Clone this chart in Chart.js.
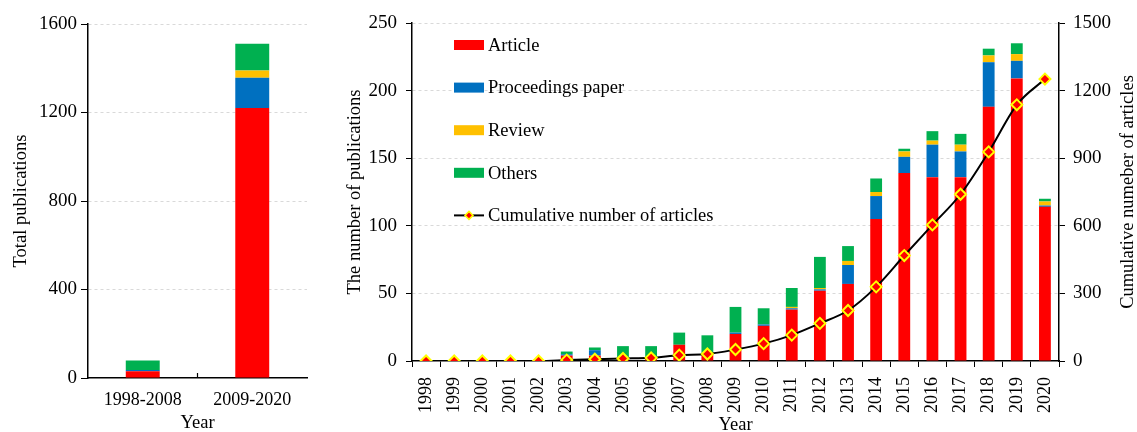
<!DOCTYPE html>
<html>
<head>
<meta charset="utf-8">
<script src="https://cdn.jsdelivr.net/npm/chart.js@4.4.1/dist/chart.umd.min.js"></script>
<style>
  html, body { margin: 0; padding: 0; background: #fff; overflow: hidden; width: 1137px; height: 432px; }
  canvas { position: absolute; top: 0; }
  #totals { left: 0; }
  #yearly { left: 330px; }
</style>
</head>
<body>
<canvas id="totals" width="310" height="432"></canvas>
<canvas id="yearly" width="807" height="432"></canvas>
<script>
// Publication counts by document type, per period
const periods = ['1998-2008', '2009-2020'];
const periodArticle = [31, 1220];
const periodProceedings = [5, 137];
const periodReview = [0, 33];
const periodOthers = [43, 121];

// Publication counts by document type, per year
const years = ['1998', '1999', '2000', '2001', '2002', '2003', '2004', '2005', '2006', '2007', '2008',
  '2009', '2010', '2011', '2012', '2013', '2014', '2015', '2016', '2017', '2018', '2019', '2020'];
const article = [0, 0, 0, 0, 0, 4, 4, 3, 3, 12, 5, 20, 26, 38, 52, 57, 105, 139, 136, 136, 188, 209, 114];
const proceedings = [0, 0, 0, 0, 0, 1, 4, 0, 0, 0, 0, 1, 1, 1, 1, 14, 17, 12, 24, 19, 33, 13, 1];
const review = [0, 0, 0, 0, 0, 0, 0, 0, 0, 0, 0, 0, 0, 1, 1, 3, 3, 4, 3, 5, 5, 5, 3];
const others = [0, 0, 0, 0, 0, 2, 2, 8, 8, 9, 14, 19, 12, 14, 23, 11, 10, 2, 7, 8, 5, 8, 2];
const cumulativeArticles = [0, 0, 0, 0, 0, 4, 8, 11, 14, 26, 31, 51, 77, 115, 167, 224, 329, 468, 604, 740, 928, 1137, 1251];

// Axis tick values
const totalTicks = [0, 400, 800, 1200, 1600];
const yearlyTicks = [0, 50, 100, 150, 200, 250];
const cumulativeTicks = [0, 300, 600, 900, 1200, 1500];

const COLORS = { article: '#FF0000', proceedings: '#0070C0', review: '#FFC000', others: '#00B050' };
const SERIF = "'Liberation Serif', 'Times New Roman', serif";

Chart.defaults.font.family = SERIF;
Chart.defaults.color = '#000';
Chart.defaults.animation = false;

const gridColor = (ctx) => (ctx.tick && ctx.tick.value === 0) ? 'rgba(0,0,0,0)' : '#d9d9d9';
const plainNumber = (v) => String(v);

function fixedTicks(values) {
  return function (scale) {
    scale.ticks = values.map(v => ({ value: v }));
  };
}

// Small inward tick marks between the period categories
const innerCategoryTicks = {
  id: 'innerCategoryTicks',
  afterDraw(chart) {
    const x = chart.scales.x;
    const { ctx, chartArea } = chart;
    ctx.save();
    ctx.strokeStyle = '#000';
    ctx.lineWidth = 1.2;
    for (let i = 0; i < x.ticks.length - 1; i++) {
      const px = (x.getPixelForValue(i) + x.getPixelForValue(i + 1)) / 2;
      ctx.beginPath();
      ctx.moveTo(px, chartArea.bottom);
      ctx.lineTo(px, chartArea.bottom - 5);
      ctx.stroke();
    }
    ctx.restore();
  }
};

// Vertical legend drawn inside the plot area
const insideLegend = {
  id: 'insideLegend',
  afterDraw(chart) {
    const { ctx, chartArea } = chart;
    const x0 = chartArea.left + 42;
    const y0 = chartArea.top + 22;
    const step = 42.6;
    ctx.save();
    ctx.font = '18.5px ' + SERIF;
    ctx.textBaseline = 'middle';
    ctx.fillStyle = '#000';
    chart.data.datasets.forEach((ds, i) => {
      const y = y0 + i * step;
      if (ds.type === 'line') {
        ctx.strokeStyle = ds.borderColor;
        ctx.lineWidth = 2;
        ctx.beginPath();
        ctx.moveTo(x0, y);
        ctx.lineTo(x0 + 30, y);
        ctx.stroke();
        const r = 4;
        const cx = x0 + 15;
        ctx.beginPath();
        ctx.moveTo(cx, y - r);
        ctx.lineTo(cx + r, y);
        ctx.lineTo(cx, y + r);
        ctx.lineTo(cx - r, y);
        ctx.closePath();
        ctx.fillStyle = ds.pointBackgroundColor;
        ctx.fill();
        ctx.strokeStyle = ds.pointBorderColor;
        ctx.lineWidth = 1.5;
        ctx.stroke();
      } else {
        ctx.fillStyle = ds.backgroundColor;
        ctx.fillRect(x0, y - 5, 30, 10);
      }
      ctx.fillStyle = '#000';
      ctx.fillText(ds.label, x0 + 34, y + 1);
    });
    ctx.restore();
  }
};

// Right-axis title, reading bottom to top like the left one
const rightAxisTitle = {
  id: 'rightAxisTitle',
  afterDraw(chart, args, opts) {
    const { ctx, chartArea } = chart;
    const y1 = chart.scales.y1;
    ctx.save();
    ctx.translate(y1.right - 9, (chartArea.top + chartArea.bottom) / 2);
    ctx.rotate(-Math.PI / 2);
    ctx.font = '18.5px ' + SERIF;
    ctx.fillStyle = '#000';
    ctx.textAlign = 'center';
    ctx.textBaseline = 'middle';
    ctx.fillText(opts.text, 0, 0);
    ctx.restore();
  }
};

const titleFont = { size: 18.5, family: SERIF };
const tickFont = { size: 18, family: SERIF };
const valueFont = { size: 19, family: SERIF };

// Totals per period
new Chart(document.getElementById('totals'), {
  type: 'bar',
  data: {
    labels: periods,
    datasets: [
      { label: 'Article', data: periodArticle, backgroundColor: COLORS.article },
      { label: 'Proceedings paper', data: periodProceedings, backgroundColor: COLORS.proceedings },
      { label: 'Review', data: periodReview, backgroundColor: COLORS.review },
      { label: 'Others', data: periodOthers, backgroundColor: COLORS.others }
    ]
  },
  options: {
    responsive: false,
    layout: { padding: { top: 24, right: 3, left: 0, bottom: 0 } },
    datasets: { bar: { categoryPercentage: 1, barPercentage: 0.31 } },
    plugins: { legend: { display: false }, tooltip: { enabled: false } },
    scales: {
      x: {
        stacked: true,
        grid: { drawOnChartArea: false, drawTicks: false },
        border: { color: '#000', width: 1.5 },
        ticks: { font: tickFont, padding: 11 },
        title: { display: true, text: 'Year', font: titleFont, padding: { top: 0, bottom: -2 } },
        afterFit(scale) { scale.height = 54; }
      },
      y: {
        stacked: true,
        min: 0, max: 1600,
        afterBuildTicks: fixedTicks(totalTicks),
        grid: { color: gridColor, tickColor: '#000', tickLength: 7, lineWidth: 1 },
        border: { color: '#000', width: 1.5, dash: [3, 3] },
        ticks: { font: valueFont, padding: 4, callback: plainNumber },
        title: { display: true, text: 'Total publications', font: titleFont, padding: { top: 10, bottom: 0 } },
        afterFit(scale) { scale.width = 88; }
      }
    }
  },
  plugins: [innerCategoryTicks]
});

// Yearly counts with the cumulative article line
new Chart(document.getElementById('yearly'), {
  type: 'bar',
  data: {
    labels: years,
    datasets: [
      { label: 'Article', data: article, backgroundColor: COLORS.article, order: 1 },
      { label: 'Proceedings paper', data: proceedings, backgroundColor: COLORS.proceedings, order: 1 },
      { label: 'Review', data: review, backgroundColor: COLORS.review, order: 1 },
      { label: 'Others', data: others, backgroundColor: COLORS.others, order: 1 },
      {
        type: 'line',
        label: 'Cumulative number of articles',
        data: cumulativeArticles,
        yAxisID: 'y1',
        order: 0,
        borderColor: '#000',
        borderWidth: 2,
        cubicInterpolationMode: 'monotone',
        pointStyle: 'rectRot',
        pointRadius: 5.5,
        pointBackgroundColor: '#FF0000',
        pointBorderColor: '#FFFF00',
        pointBorderWidth: 2
      }
    ]
  },
  options: {
    responsive: false,
    layout: { padding: { top: 23, right: 0, left: 0, bottom: 0 } },
    datasets: { bar: { categoryPercentage: 1, barPercentage: 0.42 } },
    plugins: {
      legend: { display: false },
      tooltip: { enabled: false },
      rightAxisTitle: { text: 'Cumulative numeber of articles' }
    },
    scales: {
      x: {
        stacked: true,
        grid: { drawOnChartArea: false, tickColor: '#000', tickLength: 6, offset: true },
        border: { color: '#000', width: 1.5 },
        ticks: { font: tickFont, minRotation: 90, maxRotation: 90, autoSkip: false, padding: 10 },
        title: { display: true, text: 'Year', font: titleFont, padding: { top: 0, bottom: -4 } },
        afterFit(scale) { scale.height = 71; }
      },
      y: {
        stacked: true,
        position: 'left',
        min: 0, max: 250,
        afterBuildTicks: fixedTicks(yearlyTicks),
        grid: { color: gridColor, tickColor: '#000', tickLength: 6, lineWidth: 1 },
        border: { color: '#000', width: 1.5, dash: [3, 3] },
        ticks: { font: valueFont, padding: 9, callback: plainNumber },
        title: { display: true, text: 'The number of publications', font: titleFont, padding: { top: 14, bottom: 0 } },
        afterFit(scale) { scale.width = 82; }
      },
      y1: {
        position: 'right',
        min: 0, max: 1500,
        afterBuildTicks: fixedTicks(cumulativeTicks),
        grid: { drawOnChartArea: false, tickColor: '#000', tickLength: 6 },
        border: { color: '#000', width: 1.5 },
        ticks: { font: valueFont, padding: 8, callback: plainNumber },
        afterFit(scale) { scale.width = 78; }
      }
    }
  },
  plugins: [insideLegend, rightAxisTitle]
});
</script>
</body>
</html>
